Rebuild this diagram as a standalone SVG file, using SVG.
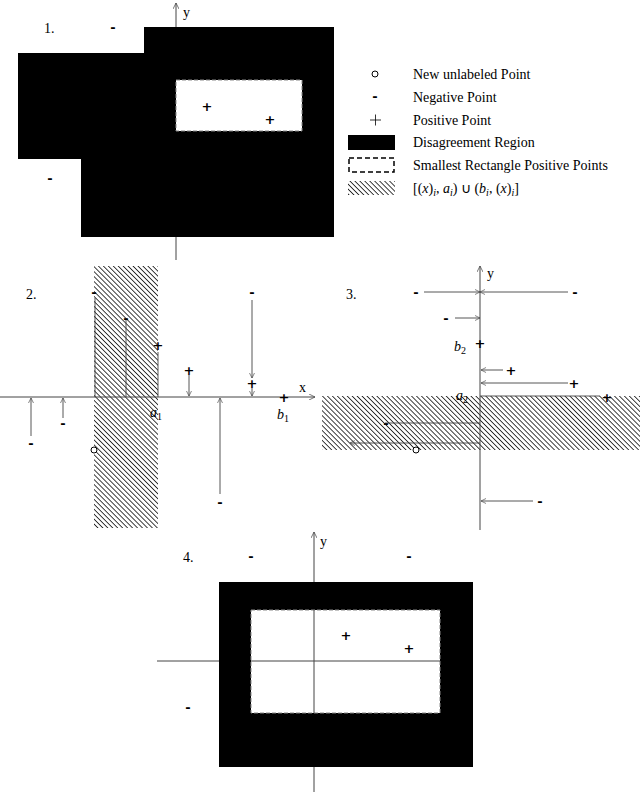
<svg xmlns="http://www.w3.org/2000/svg" width="640" height="792" viewBox="0 0 640 792">
<style>
text{font-family:"Liberation Serif",serif;font-size:14px;fill:#000}
.ax{stroke:#444;stroke-width:1;fill:none}
.l{stroke:#444;stroke-width:0.9;fill:none}
.m{font-family:"DejaVu Sans",sans-serif;font-weight:bold;font-size:13px;text-anchor:middle}
.dash{fill:#fff;stroke:#fff;stroke-width:1.2;stroke-dasharray:4 2}
</style>
<defs>
<pattern id="h" width="3.5" height="3.5" patternUnits="userSpaceOnUse" patternTransform="rotate(-45)">
<line x1="0" y1="0" x2="0" y2="3.5" stroke="#000" stroke-width="1.5"/>
</pattern>
<marker id="a" viewBox="0 0 10 10" refX="10" refY="5" markerWidth="6" markerHeight="6" orient="auto-start-reverse">
<path d="M0,0 L10,5 L0,10" fill="none" stroke="#444" stroke-width="1.2"/>
</marker>
</defs>
<g id="panel1">
<path d="M144,27H334V237H81V159H18V53H144Z" fill="#000"/>
<rect x="176" y="80" width="126" height="51" fill="#fff" stroke="#888" stroke-dasharray="4 2"/>
<line class="ax" x1="176" y1="260" x2="176" y2="237"/>
<line class="ax" x1="176" y1="27" x2="176" y2="3" marker-end="url(#a)"/>
<text x="183" y="17">y</text>
<text x="44" y="33">1.</text>
<text class="m" x="113" y="32">-</text>
<text class="m" x="50" y="183">-</text>
<text class="m" x="207" y="111">+</text>
<text class="m" x="270" y="124">+</text>
</g>
<g id="legend">
<circle cx="375" cy="74" r="3" fill="none" stroke="#000"/>
<text class="m" x="375" y="101">-</text>
<path d="M370,120H381M375.5,114.5V125.5" stroke="#000" stroke-width="0.8"/>
<rect x="348" y="135" width="47" height="15" fill="#000"/>
<rect x="349" y="158" width="45" height="14" fill="none" stroke="#000" stroke-width="1.5" stroke-dasharray="5 3"/>
<rect x="348" y="181" width="47" height="14" fill="url(#h)"/>
<text x="413" y="79">New unlabeled Point</text>
<text x="413" y="102">Negative Point</text>
<text x="413" y="125">Positive Point</text>
<text x="413" y="147">Disagreement Region</text>
<text x="413" y="170">Smallest Rectangle Positive Points</text>
<text x="413" y="193">[(<tspan font-style="italic">x</tspan>)<tspan font-size="10" font-style="italic" dy="3">i</tspan><tspan dy="-3">, </tspan><tspan font-style="italic">a</tspan><tspan font-size="10" font-style="italic" dy="3">i</tspan><tspan dy="-3">) ∪ (</tspan><tspan font-style="italic">b</tspan><tspan font-size="10" font-style="italic" dy="3">i</tspan><tspan dy="-3">, (</tspan><tspan font-style="italic">x</tspan><tspan dy="-0">)</tspan><tspan font-size="10" font-style="italic" dy="3">i</tspan><tspan dy="-3">]</tspan></text>
</g>
<g id="panel2">
<rect x="94" y="266" width="64" height="262" fill="url(#h)"/>
<line class="ax" x1="0" y1="397" x2="315" y2="397" marker-end="url(#a)"/>
<text x="299" y="392">x</text>
<text x="26" y="299">2.</text>
<text x="150" y="417" font-style="italic">a<tspan font-size="10" font-style="normal" dy="3">1</tspan></text>
<text x="277" y="419" font-style="italic">b<tspan font-size="10" font-style="normal" dy="3">1</tspan></text>
<line class="l" x1="95" y1="298" x2="95" y2="397"/>
<line class="l" x1="126" y1="320" x2="126" y2="397"/>
<line class="l" x1="158" y1="352" x2="158" y2="397"/>
<line class="l" x1="189" y1="375" x2="189" y2="396" marker-end="url(#a)"/>
<line class="l" x1="252" y1="300" x2="252" y2="378" marker-end="url(#a)"/>
<line class="l" x1="252" y1="388" x2="252" y2="396" marker-end="url(#a)"/>
<line class="l" x1="31" y1="436" x2="31" y2="398" marker-end="url(#a)"/>
<line class="l" x1="63" y1="418" x2="63" y2="398" marker-end="url(#a)"/>
<line class="l" x1="220" y1="494" x2="220" y2="398" marker-end="url(#a)"/>
<text class="m" x="94" y="297">-</text>
<text class="m" x="126" y="323">-</text>
<text class="m" x="158" y="350">+</text>
<text class="m" x="189" y="375">+</text>
<text class="m" x="252" y="297">-</text>
<text class="m" x="252" y="388">+</text>
<text class="m" x="284" y="402">+</text>
<text class="m" x="31" y="448">-</text>
<text class="m" x="63" y="428">-</text>
<text class="m" x="220" y="507">-</text>
<circle cx="94" cy="450" r="3" fill="#fff" stroke="#000"/>
</g>
<g id="panel3">
<rect x="322" y="396" width="318" height="54" fill="url(#h)"/>
<line class="ax" x1="480" y1="530" x2="480" y2="266" marker-end="url(#a)"/>
<text x="487" y="278">y</text>
<text x="346" y="299">3.</text>
<line class="l" x1="424" y1="292" x2="480" y2="292" marker-end="url(#a)"/>
<line class="l" x1="568" y1="292" x2="480" y2="292" marker-end="url(#a)"/>
<line class="l" x1="455" y1="318" x2="480" y2="318" marker-end="url(#a)"/>
<line class="l" x1="503" y1="370" x2="481" y2="370" marker-end="url(#a)"/>
<line class="l" x1="568" y1="383" x2="481" y2="383" marker-end="url(#a)"/>
<line class="l" x1="480" y1="396" x2="600" y2="396"/>
<line class="l" x1="385" y1="423" x2="480" y2="423"/>
<line class="l" x1="480" y1="443" x2="350" y2="443" marker-end="url(#a)"/>
<line class="l" x1="533" y1="501" x2="481" y2="501" marker-end="url(#a)"/>
<text x="454" y="351" font-style="italic">b<tspan font-size="10" font-style="normal" dy="3">2</tspan></text>
<text x="456" y="400" font-style="italic">a<tspan font-size="10" font-style="normal" dy="3">2</tspan></text>
<text class="m" x="416" y="297">-</text>
<text class="m" x="575" y="297">-</text>
<text class="m" x="446" y="323">-</text>
<text class="m" x="480" y="348">+</text>
<text class="m" x="511" y="375">+</text>
<text class="m" x="574" y="388">+</text>
<text class="m" x="607" y="402">+</text>
<text class="m" x="386" y="428">-</text>
<text class="m" x="540" y="506">-</text>
<circle cx="416" cy="450" r="3" fill="#fff" stroke="#000"/>
</g>
<g id="panel4">
<rect x="219" y="582" width="254" height="185" fill="#000"/>
<rect x="251" y="610" width="189" height="103" fill="#fff" stroke="#888" stroke-dasharray="4 2"/>
<line class="ax" x1="157" y1="661" x2="219" y2="661"/>
<line class="ax" x1="251" y1="661" x2="440" y2="661"/>
<line class="ax" x1="314" y1="610" x2="314" y2="713"/>
<line class="ax" x1="314" y1="792" x2="314" y2="767"/>
<line class="ax" x1="314" y1="582" x2="314" y2="532" marker-end="url(#a)"/>
<text x="320" y="546">y</text>
<text x="183" y="562">4.</text>
<text class="m" x="251" y="561">-</text>
<text class="m" x="409" y="561">-</text>
<text class="m" x="188" y="712">-</text>
<text class="m" x="346" y="640">+</text>
<text class="m" x="409" y="653">+</text>
</g>
</svg>
